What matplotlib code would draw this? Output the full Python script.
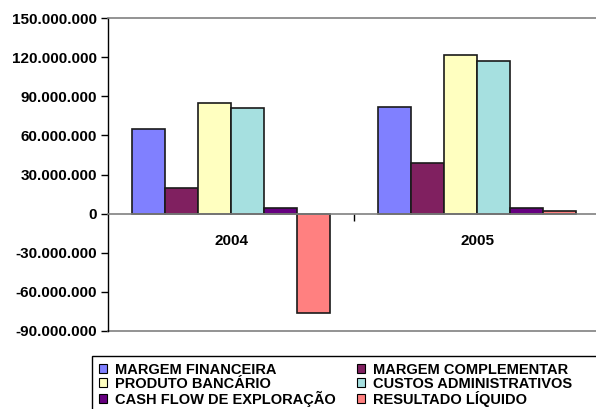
import matplotlib
matplotlib.use("Agg")
import matplotlib.pyplot as plt
from matplotlib.patches import Patch, Rectangle


YEARS = ["2004", "2005"]
SERIES = [
    "MARGEM FINANCEIRA",
    "MARGEM COMPLEMENTAR",
    "PRODUTO BANCÁRIO",
    "CUSTOS ADMINISTRATIVOS",
    "CASH FLOW DE EXPLORAÇÃO",
    "RESULTADO LÍQUIDO",
]
VALUES_2004 = [65_000_000, 19_500_000, 85_000_000, 81_000_000, 4_300_000, -76_000_000]
VALUES_2005 = [82_000_000, 38_500_000, 121_500_000, 117_000_000, 4_200_000, 1_800_000]
Y_TICKS = [-90_000_000, -60_000_000, -30_000_000, 0, 30_000_000, 60_000_000,
           90_000_000, 120_000_000, 150_000_000]

COLORS = ["#8080FF", "#802060", "#FFFFC0", "#A6E0E0", "#660080", "#FF8080"]

plt.rcParams["font.family"] = ["Liberation Sans", "DejaVu Sans"]
plt.rcParams["font.weight"] = "bold"


def fmt_thousands(v, _=None):
    """Formats a number with dots as thousands separators."""
    return f"{int(round(v)):,}".replace(",", ".")


fig = plt.figure(figsize=(5.96, 4.09), dpi=100)
ax = fig.add_axes([108 / 596, 78 / 409, 492 / 596, 313 / 409])

# bars sit inside each category with a 150% gap, like a spreadsheet chart
bar_w = 0.134
start = 0.5 - bar_w * len(SERIES) / 2
for i, (name, color) in enumerate(zip(SERIES, COLORS)):
    vals = [VALUES_2004[i], VALUES_2005[i]]
    xs = [k + start + i * bar_w for k in range(len(YEARS))]
    ax.bar(xs, vals, width=bar_w, align="edge", color=color,
           edgecolor="#1a1a1a", linewidth=1.2, zorder=3)

ax.set_xlim(0, 2)
ax.set_ylim(Y_TICKS[0], Y_TICKS[-1])

ax.set_yticks(Y_TICKS)
ax.yaxis.set_major_formatter(plt.FuncFormatter(fmt_thousands))
ax.tick_params(axis="y", direction="out", length=5, width=1, pad=3,
               labelsize=11, colors="black")
for lbl in ax.get_yticklabels():
    lbl.set_fontweight("bold")

# category axis crosses at zero
ax.spines["bottom"].set_position(("data", 0))
ax.spines["bottom"].set_color("#808080")
ax.spines["bottom"].set_linewidth(1.2)
ax.spines["bottom"].set_zorder(4)
ax.spines["top"].set_color("#808080")
ax.spines["top"].set_linewidth(1.2)
ax.spines["right"].set_visible(False)
ax.spines["left"].set_color("black")
ax.spines["left"].set_linewidth(1.0)
ax.axhline(Y_TICKS[0], color="#808080", linewidth=1.2, clip_on=False)

ax.set_xticks([1])
ax.set_xticklabels([""])
ax.set_xticks([0.5, 1.5], minor=True)
ax.set_xticklabels(YEARS, minor=True, fontsize=11, fontweight="bold")
ax.tick_params(axis="x", which="major", direction="out", length=5, width=1,
               colors="black")
ax.tick_params(axis="x", which="minor", length=0, pad=15)

# legend: two columns, row order follows the series order
handles = [Patch(facecolor=c, edgecolor="black", linewidth=0.8) for c in COLORS]
order = [0, 2, 4, 1, 3, 5]
leg_left = 92 / 596
leg_top = 1 - 356 / 409
fig.legend(
    [handles[i] for i in order], [SERIES[i] for i in order],
    ncol=2, loc="upper left", bbox_to_anchor=(leg_left, leg_top),
    prop={"family": "Liberation Sans", "weight": "bold", "size": 10.5},
    frameon=False, borderpad=0.45,
    labelspacing=0.0, handlelength=0.6, handleheight=0.6,
    handletextpad=0.5, columnspacing=1.45, borderaxespad=0,
)
# legend border runs off the right and bottom edges
fig.add_artist(Rectangle((leg_left, -0.05), 1.0, leg_top + 0.05,
                         transform=fig.transFigure, fill=False,
                         edgecolor="black", linewidth=1.0))

fig.savefig("out.png", dpi=100)
plt.close(fig)
